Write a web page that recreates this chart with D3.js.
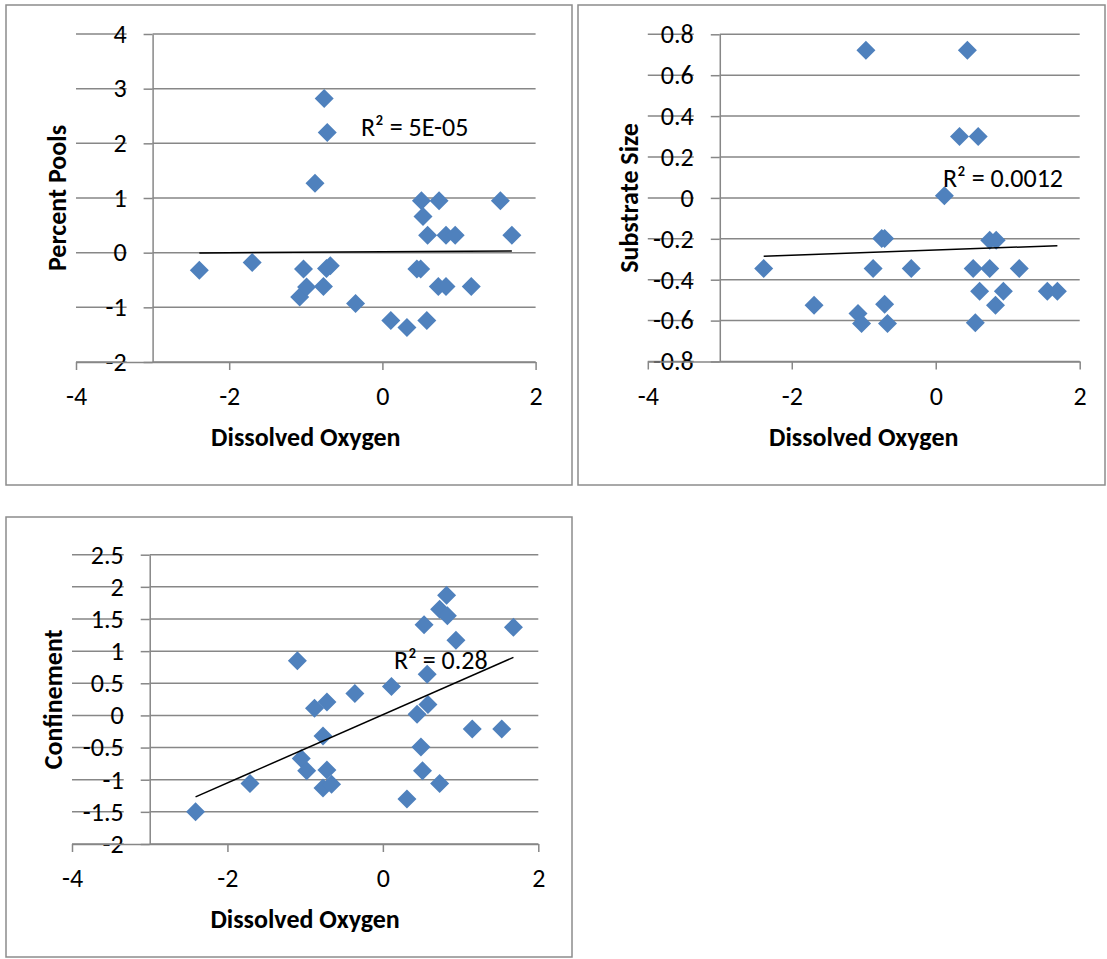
<!DOCTYPE html>
<html>
<head>
<meta charset="utf-8">
<script src="https://cdn.jsdelivr.net/npm/d3@7"></script>
<style>
body { margin: 0; background: #fff; }
svg { display: block; font-family: Carlito, Calibri, Lato, sans-serif; }
</style>
</head>
<body>
<svg id="chart" width="1107" height="959"></svg>
<script>
// shared x ticks (Dissolved Oxygen)
const xTicks = [-4, -2, 0, 2];

// Percent Pools vs Dissolved Oxygen
const poolsTicks = [-2, -1, 0, 1, 2, 3, 4];
const poolsDO = [-2.39, -1.70, -1.03, -1.08, -0.99, -0.77, -0.68, -0.73, -0.76, -0.72, -0.88, -0.35, 0.11, 0.32,
    0.58, 0.45, 0.50, 0.51, 0.53, 0.59, 0.74, 0.83, 0.95, 0.73, 0.83, 1.16, 1.54, 1.69];
const poolsVal = [-0.32, -0.18, -0.30, -0.81, -0.63, -0.62, -0.24, -0.29, 2.82, 2.20, 1.27, -0.93, -1.24, -1.37,
    -1.24, -0.30, -0.30, 0.95, 0.66, 0.32, 0.95, 0.32, 0.32, -0.62, -0.62, -0.62, 0.95, 0.32];

// Substrate Size vs Dissolved Oxygen
const substrateTicks = [-0.8, -0.6, -0.4, -0.2, 0, 0.2, 0.4, 0.6, 0.8];
const substrateDO = [-2.39, -1.69, -0.97, -1.08, -1.03, -0.87, -0.75, -0.71, -0.71, -0.67, -0.34, 0.12, 0.33,
    0.44, 0.52, 0.55, 0.59, 0.61, 0.75, 0.75, 0.84, 0.83, 0.94, 1.16, 1.55, 1.69];
const substrateVal = [-0.345, -0.525, 0.722, -0.565, -0.614, -0.345, -0.199, -0.199, -0.52, -0.614, -0.345, 0.01, 0.30,
    0.722, -0.345, -0.611, 0.30, -0.456, -0.345, -0.207, -0.207, -0.525, -0.456, -0.345, -0.456, -0.456];

// Confinement vs Dissolved Oxygen
const confineTicks = [-2, -1.5, -1, -0.5, 0, 0.5, 1, 1.5, 2, 2.5];
const confineDO = [-2.41, -1.71, -1.10, -1.05, -0.98, -0.88, -0.72, -0.77, -0.72, -0.77, -0.66, -0.36, 0.11, 0.31,
    0.44, 0.49, 0.51, 0.53, 0.57, 0.58, 0.73, 0.73, 0.82, 0.83, 0.94, 1.15, 1.53, 1.68];
const confineVal = [-1.50, -1.06, 0.85, -0.67, -0.86, 0.11, 0.21, -0.32, -0.85, -1.13, -1.07, 0.34, 0.45, -1.30,
    0.02, -0.49, -0.86, 1.41, 0.64, 0.17, -1.06, 1.65, 1.87, 1.55, 1.17, -0.21, -0.21, 1.37];

const yTitles = ["Percent Pools", "Substrate Size", "Confinement"];
const xTitle = "Dissolved Oxygen";
const r2Labels = ["R² = 5E-05", "R² = 0.0012", "R² = 0.28"];

const svg = d3.select("#chart");
const gray = "#878787";
const blue = "#4F81BD";

// least squares line like the Excel linear trendline
function fit(xs, ys) {
    const mx = d3.mean(xs), my = d3.mean(ys);
    let sxy = 0, sxx = 0;
    xs.forEach((v, i) => { sxy += (v - mx) * (ys[i] - my); sxx += (v - mx) * (v - mx); });
    const slope = sxy / sxx;
    return v => my + slope * (v - mx);
}

function drawPanel(p) {
    const g = svg.append("g");

    g.append("rect")
        .attr("x", p.box[0]).attr("y", p.box[1])
        .attr("width", p.box[2]).attr("height", p.box[3])
        .attr("fill", "#fff")
        .attr("stroke", "#8c8c8c")
        .attr("stroke-width", 1.5);

    const x = d3.scaleLinear().domain([-4, 2]).range([p.left, p.right]);
    const y = d3.scaleLinear()
        .domain([p.ticks[0], p.ticks[p.ticks.length - 1]])
        .range([p.bottom, p.top]);
    const axisX = x(-3);

    // gridlines, with a small gap between the label and the tick
    g.selectAll(".grid")
        .data(p.ticks)
        .join("path")
        .attr("class", "grid")
        .attr("d", d => `M${x(-4)},${y(d)}H${axisX - 26}M${axisX},${y(d)}H${x(2)}`)
        .attr("stroke", gray)
        .attr("stroke-width", 1.5)
        .attr("fill", "none");

    const yAxis = g.append("g")
        .attr("transform", `translate(${axisX},0)`)
        .call(d3.axisLeft(y).tickValues(p.ticks).tickFormat(d => String(d))
            .tickSize(9).tickSizeOuter(0).tickPadding(17));

    const xAxis = g.append("g")
        .attr("transform", `translate(0,${p.bottom})`)
        .call(d3.axisBottom(x).tickValues(xTicks).tickFormat(d => String(d))
            .tickSize(8).tickSizeOuter(0).tickPadding(17));

    [yAxis, xAxis].forEach(a => {
        a.attr("font-family", null).attr("font-size", null);
        a.select(".domain").attr("stroke", gray).attr("stroke-width", 1.5);
        a.selectAll(".tick line").attr("stroke", gray).attr("stroke-width", 1.5);
        a.selectAll(".tick text").attr("fill", "#000").style("font-size", "26px");
    });

    // markers
    g.selectAll(".pt")
        .data(p.xs.map((v, i) => [v, p.ys[i]]))
        .join("path")
        .attr("class", "pt")
        .attr("d", "M0,-9.5L9.5,0L0,9.5L-9.5,0Z")
        .attr("transform", d => `translate(${x(d[0])},${y(d[1])})`)
        .attr("fill", blue);

    // trendline
    const line = fit(p.xs, p.ys);
    const ext = d3.extent(p.xs);
    g.append("path")
        .datum(ext)
        .attr("d", d3.line().x(d => x(d)).y(d => y(line(d))))
        .attr("stroke", "#000")
        .attr("stroke-width", 1.5)
        .attr("fill", "none");

    g.append("text")
        .attr("x", p.r2[0]).attr("y", p.r2[1])
        .attr("dy", "0.35em")
        .style("font-size", "26px")
        .text(p.r2Text);

    g.append("text")
        .attr("x", (p.left + p.right) / 2)
        .attr("y", p.bottom + 75)
        .attr("dy", "0.35em")
        .attr("text-anchor", "middle")
        .style("font-size", "26px")
        .style("font-weight", "bold")
        .text(xTitle);

    g.append("text")
        .attr("transform", `translate(${p.left - 19},${(p.top + p.bottom) / 2}) rotate(-90)`)
        .attr("dy", "0.35em")
        .attr("text-anchor", "middle")
        .style("font-size", "26px")
        .style("font-weight", "bold")
        .text(p.yTitle);
}

drawPanel({box: [6, 5, 566, 480], left: 76, right: 535.6, top: 34, bottom: 362,
    ticks: poolsTicks, xs: poolsDO, ys: poolsVal, yTitle: yTitles[0],
    r2: [361, 127], r2Text: r2Labels[0]});

drawPanel({box: [578, 5, 527, 480], left: 647.8, right: 1079.7, top: 34.3, bottom: 361.5,
    ticks: substrateTicks, xs: substrateDO, ys: substrateVal, yTitle: yTitles[1],
    r2: [943, 178], r2Text: r2Labels[1]});

drawPanel({box: [6, 517, 566, 440], left: 72, right: 538.3, top: 554.7, bottom: 844,
    ticks: confineTicks, xs: confineDO, ys: confineVal, yTitle: yTitles[2],
    r2: [394, 660], r2Text: r2Labels[2]});
</script>
</body>
</html>
